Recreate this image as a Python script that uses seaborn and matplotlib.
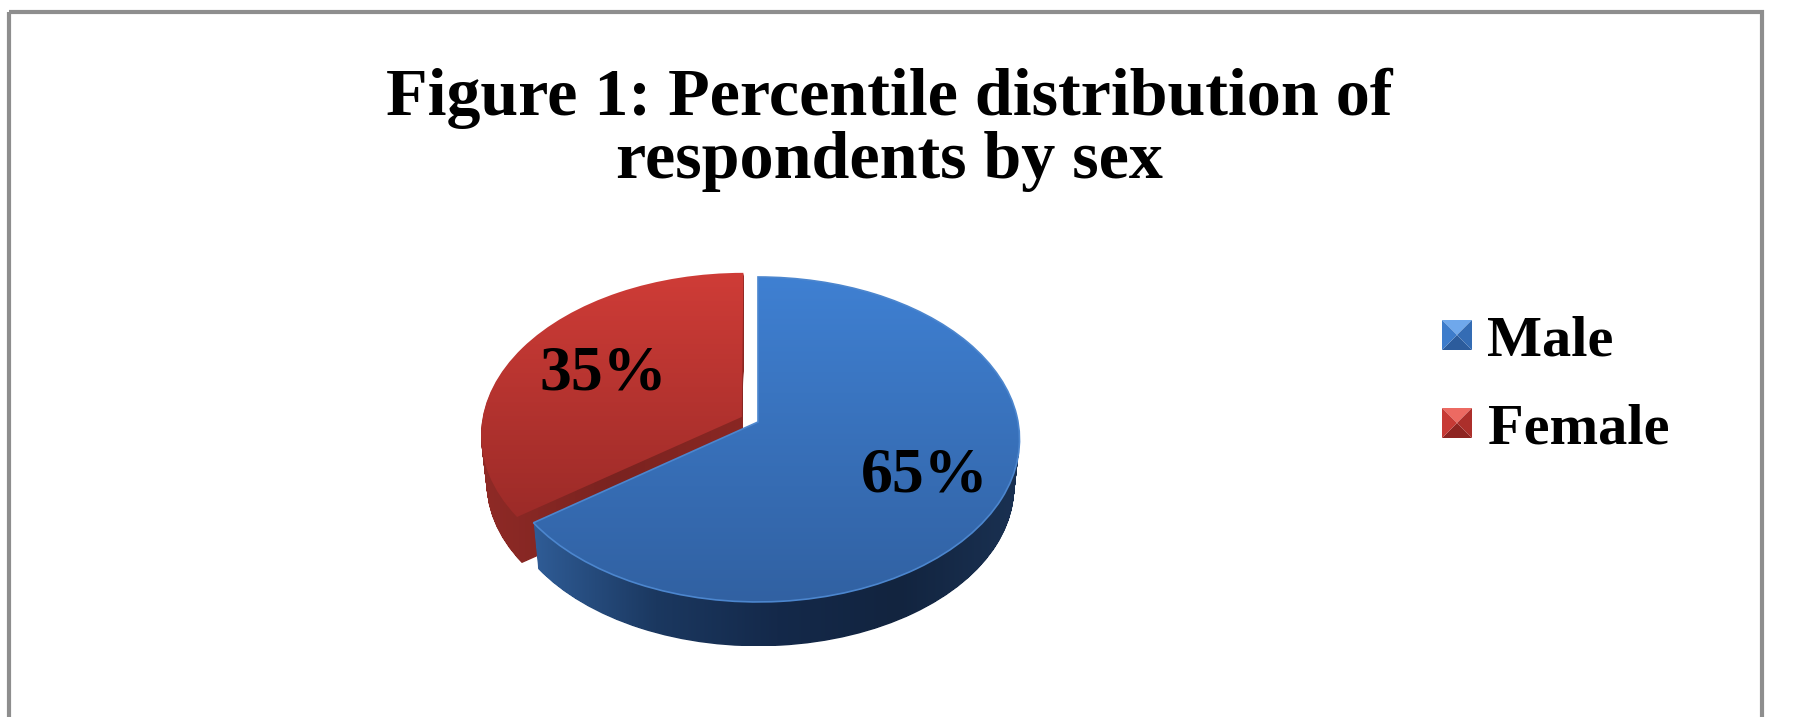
# Figure 1: 3D-look pie of respondents by sex
import numpy as np
import matplotlib
matplotlib.use("Agg")
import matplotlib.pyplot as plt
from matplotlib.patches import PathPatch, Polygon, Rectangle
from matplotlib.path import Path
import seaborn as sns

categories = ["Male", "Female"]
values = [65, 35]
explode = [0, 0.07]
title = "Figure 1: Percentile distribution of\nrespondents by sex"

top_colors = [["#3F80D2", "#3161A2"], ["#CF3C37", "#9C2B28"]]
wall_colors = [["#2F5C96", "#1B3860", "#14294A", "#12243F", "#1A3152"],
               ["#8F2A26", "#7A2320", "#8A2723"]]
swatch_colors = [["#6FA8EC", "#2C5C9C", "#3D7CCB", "#346CB4"],
                 ["#EC6A62", "#8E2522", "#C73A35", "#AC2F2B"]]

sns.set_theme(style="white")
plt.rcParams["font.family"] = ["Liberation Serif", "DejaVu Serif"]
plt.rcParams["font.weight"] = "bold"

# the whole figure is one axes in pixel units
fig = plt.figure(figsize=(18.10, 7.17), dpi=100, facecolor="white")
ax = fig.add_axes([0, 0, 1, 1])
ax.axis("off")

# pie geometry comes from a hidden helper axes, then gets tilted
helper = fig.add_axes([0, 0, 0.01, 0.01])
wedges, _ = helper.pie(values, explode=explode, startangle=90, counterclock=False)
helper.set_visible(False)

CX, CY, RX, RY, TILT = 758, 422, 260, 160.6, 0.1075
DEPTH = 48


def project(path, drop=0, shrink=1.0):
    v = path.vertices
    w = 1 + TILT * v[:, 1]
    x = CX + shrink * RX * v[:, 0] / w
    y = CY - shrink * RY * v[:, 1] / w + drop
    return Path(np.column_stack([x, y]), path.codes)


def fill_gradient(clip, colors, horizontal, zorder):
    cmap = sns.blend_palette(colors, as_cmap=True)
    box = clip.get_extents()
    ramp = np.linspace(0, 1, 256)
    ramp = ramp[None, :] if horizontal else ramp[:, None]
    im = ax.imshow(ramp, cmap=cmap, aspect="auto", zorder=zorder,
                   extent=[box.x0, box.x1, box.y1, box.y0], interpolation="bilinear")
    im.set_clip_path(PathPatch(clip, transform=ax.transData))


# red goes first, blue sits over it
for i in [1, 0]:
    base = zorder = 2 if i == 1 else 5
    path = wedges[i].get_path()
    stack = [project(path, drop=d, shrink=1 - 0.02 * d / DEPTH) for d in range(1, DEPTH + 1)]
    fill_gradient(Path.make_compound_path(*stack), wall_colors[i], True, base)
    top = project(path)
    fill_gradient(top, top_colors[i], False, base + 1)

rim = PathPatch(project(wedges[0].get_path()), fill=False, edgecolor="#4C86CE", lw=1.2, zorder=7)
ax.add_patch(rim)

# frame, open at the bottom
ax.add_patch(Rectangle((9, 12), 1753, 760, fill=False, edgecolor="#8E8E8E", lw=3, zorder=1))

ax.text(889, 130, title, ha="center", va="center", fontsize=49, linespacing=1.03, color="black", zorder=10)

label_pos = [(925, 477), (603, 375)]
for v, (x, y) in zip(values, label_pos):
    ax.text(x, y, f"{v}%", ha="center", va="center", fontsize=46, color="black", zorder=10)

# legend
swatch_y = [320, 408]
legend_x = [1487, 1488]
legend_base = [356, 443]
for name, sy, tx, ty, c in zip(categories, swatch_y, legend_x, legend_base, swatch_colors):
    x0, x1, y0, y1 = 1442, 1472, sy, sy + 30
    mx, my = (x0 + x1) / 2, (y0 + y1) / 2
    ax.add_patch(Polygon([(x0, y0), (x1, y0), (mx, my)], color=c[0], lw=0, zorder=9))
    ax.add_patch(Polygon([(x0, y1), (x1, y1), (mx, my)], color=c[1], lw=0, zorder=9))
    ax.add_patch(Polygon([(x0, y0), (x0, y1), (mx, my)], color=c[2], lw=0, zorder=9))
    ax.add_patch(Polygon([(x1, y0), (x1, y1), (mx, my)], color=c[3], lw=0, zorder=9))
    ax.text(tx, ty, name, ha="left", va="baseline", fontsize=42, color="black", zorder=10)

ax.set_xlim(0, 1810)
ax.set_ylim(717, 0)

fig.savefig("out.png", dpi=100)
